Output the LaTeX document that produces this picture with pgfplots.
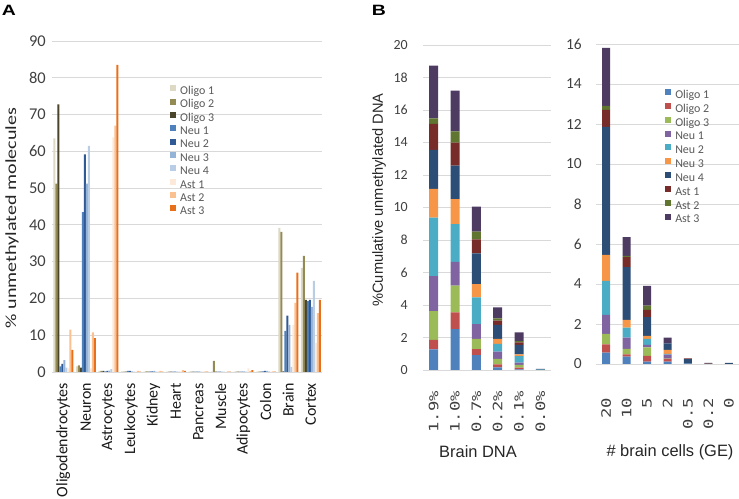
\documentclass[border=0pt]{standalone}
\usepackage{fontspec}
\setmainfont{Carlito}
\newfontfamily\ylabfont[FakeStretch=1.3]{Carlito}
\newfontfamily\arialfont{Liberation Sans}
\newfontfamily\panelfont[FakeStretch=1.3]{Liberation Sans}
\newfontfamily\monofont[FakeStretch=1.33]{DejaVu Sans Mono}
\usepackage{pgfplots}
\pgfplotsset{compat=1.18}
\usepackage{pgfplotstable}

% panel A colours
\definecolor{cA1}{HTML}{DDD9C4}
\definecolor{cA2}{HTML}{948A54}
\definecolor{cA3}{HTML}{4A452A}
\definecolor{cA4}{HTML}{4F81BD}
\definecolor{cA5}{HTML}{305A96}
\definecolor{cA6}{HTML}{95B3D7}
\definecolor{cA7}{HTML}{B9CDE5}
\definecolor{cA8}{HTML}{FDE9D9}
\definecolor{cA9}{HTML}{FAC090}
\definecolor{cA10}{HTML}{E8701A}
% panel B colours
\definecolor{cB1}{HTML}{4F81BD}
\definecolor{cB2}{HTML}{C0504D}
\definecolor{cB3}{HTML}{9BBB59}
\definecolor{cB4}{HTML}{8064A2}
\definecolor{cB5}{HTML}{4BACC6}
\definecolor{cB6}{HTML}{F79646}
\definecolor{cB7}{HTML}{2C4D75}
\definecolor{cB8}{HTML}{772C2A}
\definecolor{cB9}{HTML}{5F7530}
\definecolor{cB10}{HTML}{4D3B62}
\definecolor{gridgray}{HTML}{D9D9D9}
\definecolor{tickgray}{HTML}{404040}
\definecolor{leggray}{HTML}{595959}

\pgfplotsset{
  sqlegend/.style={legend image code/.code={\fill[##1] (0bp,0.6bp) rectangle (6bp,6.6bp);}},
  common/.style={
    scale only axis,
    axis line style={draw=none},
    major tick length=0pt,
    ymajorgrids,
    grid style={draw=gridgray, line width=0.8bp},
    /pgf/number format/assume math mode=true,
    legend cell align=left,
    legend style={draw=none, fill=none, inner sep=0pt, text=leggray,
      font=\fontsize{12}{12}\selectfont,
      nodes={inner sep=0pt, text height=8bp, text depth=2.5bp},
      /tikz/every odd column/.append style={column sep=4bp}},
  },
}

% panel A: % unmethylated molecules per tissue
\pgfplotstableread{
x   o1   o2   o3   n1   n2   n3   n4   a1   a2   a3
0   63.5 51.2 72.8 1.5  2.2  3.2  1.2  1.0  11.5 6.0
1   1.5  1.8  1.2  43.5 59.2 51.2 61.5 1.0  10.8 9.2
2   0.3  0.3  0.3  0.2  0.3  0.4  0.8  63.8 67.0 83.5
3   0.2  0.1  0.1  0.3  0.3  0.2  0.1  0.1  0.3  0.1
4   0.1  0.2  0.1  0.2  0.2  0.3  0.1  0.3  0.3  0.1
5   0.1  0.1  0.1  0.1  0.1  0.1  0.1  0.2  0.5  0.3
6   0.1  0.1  0.1  0.1  0.1  0.2  0.1  0.2  0.2  0.1
7   0.1  3.0  0.1  0.1  0.1  0.1  0.1  0.1  0.2  0.1
8   0.1  0.1  0.1  0.1  0.1  0.2  0.1  1.0  0.3  0.5
9   0.1  0.1  0.1  0.2  0.3  0.3  0.2  0.1  0.2  0.1
10  39.2 38.1 0.2  11.2 15.3 12.8 1.4  12.8 18.8 27.0
11  28.3 31.6 19.6 19.3 19.6 17.7 24.8 7.9  16.0 19.6
}\tissues

% panel B left: cumulative unmethylated DNA vs brain DNA fraction
\pgfplotstableread{
x  o1   o2   o3   n1   n2   n3   n4   a1   a2   a3
0  1.27 0.58 1.78 2.15 3.59 1.77 2.40 1.60 0.35 3.24
1  2.52 1.03 1.64 1.46 2.33 1.54 2.05 1.42 0.70 2.50
2  0.92 0.37 0.62 0.92 1.64 0.82 1.89 0.86 0.47 1.54
3  0.16 0.19 0.33 0.45 0.47 0.31 0.86 0.27 0.14 0.68
4  0.04 0.10 0.17 0.14 0.41 0.10 0.58 0.16 0.08 0.54
5  0    0    0    0    0.03 0    0.03 0    0    0.01
}\dnatab

% panel B right: cumulative unmethylated DNA vs brain cells (GE)
\pgfplotstableread{
x  o1   o2   o3   n1   n2   n3   n4   a1   a2   a3
0  0.57 0.41 0.52 0.95 1.70 1.31 6.39 0.86 0.20 2.89
1  0.37 0.11 0.27 0.57 0.50 0.38 2.64 0.50 0.07 0.93
2  0.12 0.28 0.43 0.12 0.30 0.15 0.94 0.36 0.22 0.98
3  0.12 0.13 0.02 0.20 0.03 0.20 0.33 0    0    0.29
4  0.02 0    0    0    0    0    0.22 0.04 0    0
5  0    0    0    0    0    0    0.02 0.02 0    0.02
6  0    0    0    0    0    0    0.05 0    0    0
}\celltab

\begin{document}
\begin{tikzpicture}
\useasboundingbox (0,0) rectangle (739bp,499bp);

% ---------------- panel A ----------------
\begin{axis}[common,
  at={(52bp,127bp)}, anchor=south west,
  width=270bp, height=331bp,
  ybar=0pt, bar width=2bp,
  xmin=-0.5, xmax=11.5, ymin=0, ymax=90,
  ytick={0,10,...,90},
  xtick={0,...,11},
  xticklabels={Oligodendrocytes,Neuron,Astrocytes,Leukocytes,Kidney,Heart,Pancreas,Muscle,Adipocytes,Colon,Brain,Cortex},
  x tick label style={rotate=90, anchor=east, inner sep=0pt, text=black!90, font=\fontsize{16}{16}\selectfont},
  xticklabel shift=11bp,
  y tick label style={anchor=east, inner sep=0pt, text=tickgray, font=\fontsize{16.5}{16.5}\selectfont},
  yticklabel shift=6bp,
  legend style={at={(0.437,0.867)}, anchor=north west, row sep=1.5bp},
]
\addplot[fill=cA1, draw=none, sqlegend] table[x=x, y=o1] {\tissues};
\addplot[fill=cA2, draw=none, sqlegend] table[x=x, y=o2] {\tissues};
\addplot[fill=cA3, draw=none, sqlegend] table[x=x, y=o3] {\tissues};
\addplot[fill=cA4, draw=none, sqlegend] table[x=x, y=n1] {\tissues};
\addplot[fill=cA5, draw=none, sqlegend] table[x=x, y=n2] {\tissues};
\addplot[fill=cA6, draw=none, sqlegend] table[x=x, y=n3] {\tissues};
\addplot[fill=cA7, draw=none, sqlegend] table[x=x, y=n4] {\tissues};
\addplot[fill=cA8, draw=none, sqlegend] table[x=x, y=a1] {\tissues};
\addplot[fill=cA9, draw=none, sqlegend] table[x=x, y=a2] {\tissues};
\addplot[fill=cA10, draw=none, sqlegend] table[x=x, y=a3] {\tissues};
\legend{Oligo 1,Oligo 2,Oligo 3,Neu 1,Neu 2,Neu 3,Neu 4,Ast 1,Ast 2,Ast 3}
\end{axis}

% ---------------- panel B, left ----------------
\begin{axis}[common,
  at={(423bp,129bp)}, anchor=south west,
  width=128bp, height=325bp,
  ybar stacked, bar width=9bp,
  xmin=-0.5, xmax=5.5, ymin=0, ymax=20,
  ytick={0,2,...,20},
  xtick={0,...,5},
  xticklabels={1.9\%,1.0\%,0.7\%,0.2\%,0.1\%,0.0\%},
  x tick label style={rotate=90, anchor=east, inner sep=0pt, text=tickgray, font=\monofont\fontsize{13}{13}\selectfont},
  xticklabel shift=21bp,
  y tick label style={anchor=east, inner sep=0pt, text=tickgray, font=\fontsize{14}{14}\selectfont},
  yticklabel shift=15bp,
]
\addplot[fill=cB1, draw=none] table[x=x, y=o1] {\dnatab};
\addplot[fill=cB2, draw=none] table[x=x, y=o2] {\dnatab};
\addplot[fill=cB3, draw=none] table[x=x, y=o3] {\dnatab};
\addplot[fill=cB4, draw=none] table[x=x, y=n1] {\dnatab};
\addplot[fill=cB5, draw=none] table[x=x, y=n2] {\dnatab};
\addplot[fill=cB6, draw=none] table[x=x, y=n3] {\dnatab};
\addplot[fill=cB7, draw=none] table[x=x, y=n4] {\dnatab};
\addplot[fill=cB8, draw=none] table[x=x, y=a1] {\dnatab};
\addplot[fill=cB9, draw=none] table[x=x, y=a2] {\dnatab};
\addplot[fill=cB10, draw=none] table[x=x, y=a3] {\dnatab};
\end{axis}

% ---------------- panel B, right ----------------
\begin{axis}[common,
  at={(596bp,135bp)}, anchor=south west,
  width=143bp, height=320bp,
  ybar stacked, bar width=8bp,
  xmin=-0.5, xmax=6.5, ymin=0, ymax=16,
  ytick={0,2,...,16},
  xtick={0,...,6},
  xticklabels={20,10,5,2,0.5,0.2,0},
  x tick label style={rotate=90, anchor=east, inner sep=0pt, text=tickgray, font=\monofont\fontsize{13}{13}\selectfont},
  xticklabel shift=34bp,
  y tick label style={anchor=east, inner sep=0pt, text=tickgray, font=\fontsize{15.5}{15.5}\selectfont},
  yticklabel shift=14bp,
  legend style={at={(0.483,0.86)}, anchor=north west, row sep=2bp},
]
\addplot[fill=cB1, draw=none, sqlegend] table[x=x, y=o1] {\celltab};
\addplot[fill=cB2, draw=none, sqlegend] table[x=x, y=o2] {\celltab};
\addplot[fill=cB3, draw=none, sqlegend] table[x=x, y=o3] {\celltab};
\addplot[fill=cB4, draw=none, sqlegend] table[x=x, y=n1] {\celltab};
\addplot[fill=cB5, draw=none, sqlegend] table[x=x, y=n2] {\celltab};
\addplot[fill=cB6, draw=none, sqlegend] table[x=x, y=n3] {\celltab};
\addplot[fill=cB7, draw=none, sqlegend] table[x=x, y=n4] {\celltab};
\addplot[fill=cB8, draw=none, sqlegend] table[x=x, y=a1] {\celltab};
\addplot[fill=cB9, draw=none, sqlegend] table[x=x, y=a2] {\celltab};
\addplot[fill=cB10, draw=none, sqlegend] table[x=x, y=a3] {\celltab};
\legend{Oligo 1,Oligo 2,Oligo 3,Neu 1,Neu 2,Neu 3,Neu 4,Ast 1,Ast 2,Ast 3}
\end{axis}

% labels
\node[font=\panelfont\bfseries\fontsize{15}{15}\selectfont] at (9bp,489bp) {A};
\node[font=\panelfont\bfseries\fontsize{15}{15}\selectfont] at (379bp,489bp) {B};
\node[rotate=90, font=\ylabfont\fontsize{15.5}{15.5}\selectfont, text=black!85] at (12bp,281bp) {\% unmethylated molecules};
\node[rotate=90, font=\arialfont\fontsize{14.7}{14.7}\selectfont, text=black!85] at (379bp,299bp) {\%Cumulative unmethylated DNA};
\node[font=\arialfont\fontsize{16.5}{16.5}\selectfont, text=black!85] at (478bp,47bp) {Brain DNA};
\node[font=\arialfont\fontsize{16.5}{16.5}\selectfont, text=black!85] at (670bp,47bp) {\# brain cells (GE)};
\end{tikzpicture}
\end{document}
